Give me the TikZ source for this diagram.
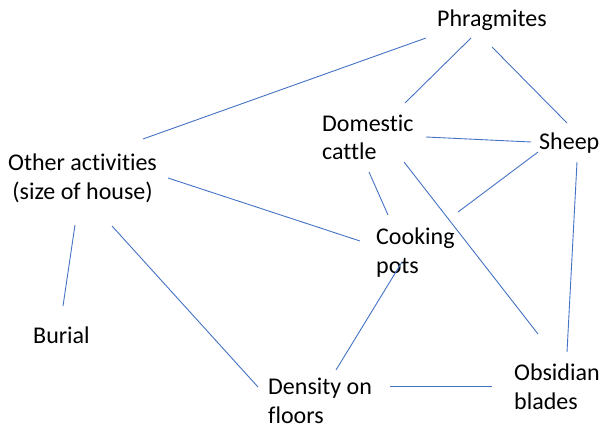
\documentclass[tikz,border=0pt]{standalone}
\usepackage{fontspec}
\setmainfont[Ligatures={NoCommon}]{Carlito}
\definecolor{linkblue}{HTML}{4472C4}
\begin{document}
\begin{tikzpicture}[x=1pt,y=-1pt,
  label/.style={inner sep=0pt,anchor=base west,align=left,
    font=\fontsize{24}{28.5}\selectfont},
  link/.style={draw=linkblue,line width=0.9pt}]
\useasboundingbox (0,0) rectangle (601,430);

% factors (positioned at the baseline of their last line)
\node[label] (phrag) at (437,27) {Phragmites};
\node[label] (cattle) at (322,160) {Domestic\\cattle};
\node[label] (sheep) at (539,150) {Sheep};
\node[label,align=center] (other) at (8,199) {Other activities\\(size of house)};
\node[label] (pots) at (376,273) {Cooking\\pots};
\node[label] (burial) at (33,343) {Burial};
\node[label] (density) at (268,423) {Density on\\floors};
\node[label] (blades) at (514,409) {Obsidian\\blades};

% connector ends beside each factor
\coordinate (phrag-w)  at (426,38);
\coordinate (phrag-s)  at (471,38);
\coordinate (phrag-e)  at (492,47);
\coordinate (cattle-n) at (405,103);
\coordinate (cattle-e) at (426,137);
\coordinate (cattle-s) at (369,172);
\coordinate (cattle-r) at (404,162);
\coordinate (sheep-n)  at (567,123);
\coordinate (sheep-w)  at (531,142);
\coordinate (sheep-sw) at (538,152);
\coordinate (sheep-s)  at (577,162);
\coordinate (other-n)  at (143,139);
\coordinate (other-e)  at (168,178);
\coordinate (other-s)  at (75,225);
\coordinate (other-se) at (112,226);
\coordinate (pots-w)   at (360,241);
\coordinate (pots-n)   at (388,215);
\coordinate (pots-ne)  at (458,212);
\coordinate (pots-s)   at (402,262);
\coordinate (burial-n) at (63,306);
\coordinate (dens-nw)  at (258,387);
\coordinate (dens-n)   at (336,370);
\coordinate (dens-e)   at (390,386);
\coordinate (blades-w) at (492,386);
\coordinate (blades-nw) at (538,334);
\coordinate (blades-n) at (567,352);

% links
\draw[link] (phrag-w) -- (other-n);
\draw[link] (phrag-s) -- (cattle-n);
\draw[link] (phrag-e) -- (sheep-n);
\draw[link] (cattle-e) -- (sheep-w);
\draw[link] (other-e) -- (pots-w);
\draw[link] (cattle-s) -- (pots-n);
\draw[link] (cattle-r) -- (blades-nw);
\draw[link] (sheep-sw) -- (pots-ne);
\draw[link] (sheep-s) -- (blades-n);
\draw[link] (other-s) -- (burial-n);
\draw[link] (other-se) -- (dens-nw);
\draw[link] (pots-s) -- (dens-n);
\draw[link] (dens-e) -- (blades-w);
\end{tikzpicture}
\end{document}
